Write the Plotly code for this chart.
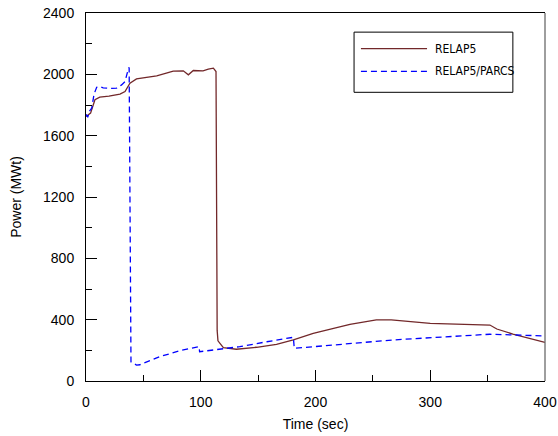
import plotly.graph_objects as go

series_names = ["RELAP5", "RELAP5/PARCS"]

relap5_time = [0, 4, 7.8, 12, 20, 29.6, 34, 38.3, 44, 55.8, 61.6, 70, 76, 84.8, 89.2,
               93.5, 102, 106.6, 111, 113.3, 113.9, 114.3, 115, 119.7, 131, 148.7, 166,
               180.7, 198, 230, 253, 266, 300, 352, 358, 372, 400]
relap5_power = [1725, 1747, 1834, 1851, 1858, 1871, 1888, 1942, 1970, 1986, 1990, 2008,
                2021, 2023, 1997, 2025, 2023, 2034, 2040, 2018, 1000, 330, 262, 217, 207,
                220, 239, 268, 311, 370, 398, 398, 376, 365, 339, 306, 252]

parcs_time = [0, 1.5, 3, 5, 7, 9.3, 12, 15, 21, 26.7, 31, 34, 36.9, 37.6, 39.2, 44,
              47, 50, 64.5, 82, 96.5, 98.5, 99, 116.8, 134, 157.5, 169, 180.7, 181.5,
              268, 352, 372, 400]
parcs_power = [1740, 1720, 1760, 1780, 1870, 1916, 1920, 1912, 1908, 1910, 1931, 1953,
               2036, 2045, 125, 104, 106, 115, 159, 198, 217, 224, 191, 209, 224, 256,
               272, 285, 213, 268, 305, 300, 294]

x_tick_vals = [0, 100, 200, 300, 400]
y_tick_vals = [0, 400, 800, 1200, 1600, 2000, 2400]

colors = ["#72282a", "#0000ff"]

fig = go.Figure()
fig.add_trace(go.Scatter(x=relap5_time, y=relap5_power, mode="lines", name=series_names[0],
                         line=dict(color=colors[0], width=1.3), showlegend=False))
fig.add_trace(go.Scatter(x=parcs_time, y=parcs_power, mode="lines", name=series_names[1],
                         line=dict(color=colors[1], width=1.3, dash="6px,4px"), showlegend=False))

tick_font = dict(family="Liberation Sans, Arial, sans-serif", size=14, color="black")

fig.update_layout(
    width=558, height=436,
    margin=dict(l=86, r=13, t=13, b=55, autoexpand=False),
    paper_bgcolor="white", plot_bgcolor="white",
    font=tick_font,
    xaxis=dict(range=[0, 400], tickvals=x_tick_vals, ticks="inside", ticklen=11,
               tickwidth=1, tickcolor="black", showline=True, linecolor="black",
               linewidth=1, mirror=True, showgrid=False, zeroline=False,
               minor=dict(dtick=50, ticks="inside", ticklen=6, tickcolor="black", showgrid=False),
               title=dict(text="Time (sec)", font=tick_font, standoff=10),
               ticklabelstandoff=8, automargin=False),
    yaxis=dict(range=[0, 2400], tickvals=y_tick_vals, ticks="inside", ticklen=11,
               tickwidth=1, tickcolor="black", showline=True, linecolor="black",
               linewidth=1, mirror=False, showgrid=False, zeroline=False,
               minor=dict(dtick=200, ticks="inside", ticklen=6, tickcolor="black", showgrid=False),
               title=dict(text="Power (MWt)", font=tick_font, standoff=18),
               ticklabelstandoff=8, automargin=False),
)

# right frame edge (gray)
fig.add_shape(type="line", xref="paper", yref="paper", x0=1, x1=1, y0=0, y1=1,
              line=dict(color="#6a6a6a", width=1.3))

# legend box drawn manually to match long sample lines
fig.add_shape(type="rect", xref="paper", yref="paper", x0=0.584, x1=0.930, y0=0.7845, y1=0.948,
              line=dict(color="black", width=1), fillcolor="white")
legend_rows = [0.903, 0.8416]
dashes = ["solid", "6px,4px"]
for name, color, ypos, dash in zip(series_names, colors, legend_rows, dashes):
    fig.add_shape(type="line", xref="paper", yref="paper", x0=0.599, x1=0.743, y0=ypos, y1=ypos,
                  line=dict(color=color, width=1.3, dash=dash))
    fig.add_annotation(xref="paper", yref="paper", x=0.7553, y=ypos, text=name, showarrow=False,
                       xanchor="left", yanchor="middle",
                       font=dict(family="Liberation Sans Narrow, DejaVu Sans Condensed, Arial Narrow, sans-serif",
                                 size=12, color="black"))

fig.write_html("out.html", config={"displayModeBar": False},
               post_script="document.body.style.margin='0';document.body.style.overflow='hidden';")
